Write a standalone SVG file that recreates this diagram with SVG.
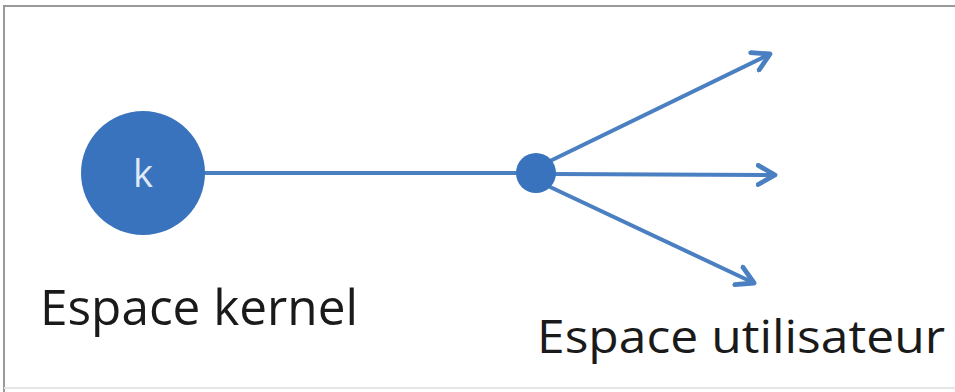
<svg xmlns="http://www.w3.org/2000/svg" width="955" height="392" viewBox="0 0 955 392">
<style>
.conn{stroke:#4a7fc1;stroke-width:4;fill:none}
.node{fill:#3a73bd}
.lbl{font-family:"Open Sans","Noto Sans",sans-serif;fill:#1a1a1a}
</style>
<defs>
<marker id="arr" viewBox="0 0 10 10" refX="8" refY="5" markerWidth="6" markerHeight="6" markerUnits="strokeWidth" orient="auto">
<path d="M1,1 L8,5 L1,9" fill="none" stroke="#4a7fc1" stroke-width="2" stroke-linecap="round" stroke-linejoin="round"/>
</marker>
</defs>
<rect x="0" y="0" width="955" height="392" fill="#fff"/>
<path d="M4,392 L4,6 L955,6" fill="none" stroke="#9a9a9a" stroke-width="2"/>
<line x1="4" y1="388" x2="955" y2="388" stroke="#e6e6e6" stroke-width="2"/>
<g id="connectors">
<line class="conn" x1="200" y1="173" x2="530" y2="173"/>
<line class="conn" x1="548" y1="162" x2="770" y2="54" marker-end="url(#arr)"/>
<line class="conn" x1="552" y1="174" x2="775" y2="175" marker-end="url(#arr)"/>
<line class="conn" x1="548" y1="186" x2="754" y2="283" marker-end="url(#arr)"/>
</g>
<g id="kernel">
<circle class="node" cx="143" cy="173" r="62"/>
<text x="143" y="187" font-family="Open Sans, sans-serif" font-size="38" fill="#dfe8f5" text-anchor="middle">k</text>
</g>
<g id="hub">
<circle class="node" cx="536" cy="173" r="20"/>
</g>
<g id="labels">
<text class="lbl" x="40" y="325" font-size="50" font-weight="500" textLength="318" lengthAdjust="spacingAndGlyphs">Espace kernel</text>
<text class="lbl" x="537" y="353" font-size="45" font-weight="500" textLength="408" lengthAdjust="spacingAndGlyphs">Espace utilisateur</text>
</g>
</svg>
